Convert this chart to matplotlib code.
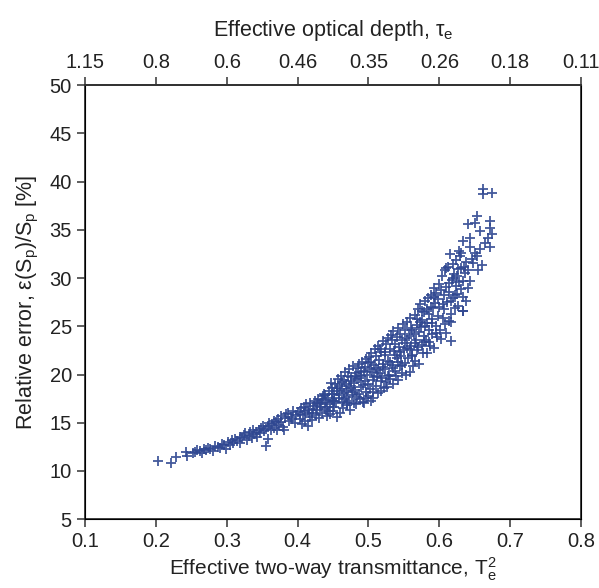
import numpy as np
import matplotlib
matplotlib.use("Agg")
import matplotlib.pyplot as plt

plt.rcParams['font.family'] = ['Liberation Sans', 'DejaVu Sans']
plt.rcParams['mathtext.fontset'] = 'custom'
plt.rcParams['mathtext.rm'] = 'Liberation Sans'
plt.rcParams['mathtext.it'] = 'Liberation Sans'

# values (T_e^2, relative error %)
t2 = [0.203, 0.222, 0.229, 0.243, 0.244,
      0.252, 0.255, 0.258, 0.262, 0.265, 0.268, 0.270, 0.274, 0.277, 0.280, 0.283, 0.287, 0.290, 0.293, 0.296, 0.299,
      0.302, 0.304, 0.307, 0.309, 0.312, 0.315, 0.318, 0.319, 0.322, 0.324, 0.326, 0.328, 0.331, 0.333, 0.335, 0.337,
      0.339, 0.341, 0.343, 0.345, 0.347, 0.349,
      0.351, 0.352, 0.355, 0.358, 0.356, 0.358, 0.360, 0.362, 0.364, 0.366, 0.367, 0.369, 0.371, 0.372, 0.374, 0.376,
      0.377, 0.379, 0.381, 0.382, 0.384, 0.386, 0.388, 0.390, 0.392, 0.394, 0.396, 0.398,
      0.401, 0.403, 0.405, 0.406, 0.408, 0.409, 0.411, 0.412, 0.414, 0.415, 0.417, 0.418, 0.420, 0.421, 0.423, 0.424,
      0.426, 0.428, 0.429, 0.430, 0.432, 0.433, 0.435, 0.436, 0.437, 0.438, 0.440, 0.441, 0.442, 0.443, 0.444, 0.445,
      0.446, 0.447, 0.448, 0.449, 0.450, 0.450,
      0.451, 0.452, 0.453, 0.454, 0.456, 0.456, 0.457, 0.458, 0.460, 0.460, 0.461, 0.462, 0.463, 0.464, 0.465, 0.466,
      0.467, 0.468, 0.469, 0.470, 0.471, 0.472, 0.473, 0.474, 0.475, 0.476, 0.477, 0.478, 0.479, 0.480, 0.481, 0.482,
      0.483, 0.484, 0.485, 0.486, 0.487, 0.488, 0.489, 0.490, 0.491, 0.492, 0.493, 0.494, 0.495, 0.496, 0.497, 0.498,
      0.499, 0.500,
      0.501, 0.502, 0.503, 0.504, 0.505, 0.506, 0.507, 0.508, 0.509, 0.510, 0.511, 0.512, 0.513, 0.514, 0.515, 0.516,
      0.517, 0.518, 0.519, 0.520, 0.521, 0.522, 0.523, 0.524, 0.525, 0.526, 0.527, 0.528, 0.529, 0.530, 0.531, 0.532,
      0.533, 0.534, 0.535, 0.536, 0.537, 0.538, 0.539, 0.540, 0.541, 0.542, 0.543, 0.544, 0.545, 0.546, 0.547, 0.548,
      0.549, 0.550,
      0.551, 0.552, 0.553, 0.554, 0.555, 0.556, 0.557, 0.558, 0.559, 0.560, 0.561, 0.562, 0.563, 0.564, 0.565, 0.566,
      0.567, 0.568, 0.569, 0.570, 0.571, 0.572, 0.573, 0.574, 0.575, 0.576, 0.577, 0.578, 0.579, 0.580, 0.581, 0.582,
      0.583, 0.584, 0.585, 0.586, 0.587, 0.588, 0.589, 0.590, 0.591, 0.592, 0.593, 0.594, 0.595, 0.596, 0.597, 0.598,
      0.599, 0.600,
      0.601, 0.603, 0.604, 0.605, 0.606, 0.607, 0.608, 0.609, 0.610, 0.611, 0.612, 0.613, 0.614, 0.615, 0.616, 0.617,
      0.617, 0.618, 0.619, 0.620, 0.621, 0.622, 0.623, 0.624, 0.625, 0.626, 0.627, 0.628, 0.629, 0.630, 0.631, 0.633,
      0.633, 0.634, 0.634, 0.634, 0.636, 0.638, 0.641, 0.641, 0.644, 0.644, 0.646, 0.648, 0.650,
      0.650, 0.653, 0.653, 0.655, 0.657, 0.657, 0.660, 0.662, 0.662, 0.665, 0.668, 0.671, 0.671, 0.671, 0.674, 0.674,
      # denser middle part of the cloud
      0.404, 0.410, 0.416, 0.422, 0.427, 0.431, 0.434, 0.439, 0.443, 0.448,
      0.452, 0.455, 0.459, 0.462, 0.465, 0.468, 0.470, 0.473, 0.476, 0.478, 0.481, 0.484, 0.487, 0.490, 0.492, 0.495,
      0.497, 0.499,
      0.502, 0.504, 0.506, 0.508, 0.511, 0.513, 0.516, 0.518, 0.520, 0.523, 0.525, 0.528, 0.530, 0.533, 0.535, 0.537,
      0.540, 0.542, 0.545, 0.548,
      0.552, 0.555, 0.558, 0.560, 0.562, 0.565, 0.568, 0.570, 0.573, 0.575, 0.578, 0.580, 0.583, 0.585, 0.588, 0.590,
      0.593, 0.595, 0.598,
      0.602, 0.605, 0.608, 0.610, 0.613, 0.616, 0.619, 0.622, 0.625, 0.628, 0.631, 0.635, 0.638, 0.640, 0.643]

rel_err = [11.0, 10.8, 11.5, 12.0, 11.6,
           11.9, 12.0, 12.2, 12.1, 11.9, 12.3, 12.2, 12.4, 12.3, 12.1, 12.6, 12.5, 12.4, 12.8, 12.7, 12.3,
           13.0, 12.7, 13.2, 12.9, 13.3, 13.1, 13.5, 12.9, 13.4, 13.7, 13.9, 13.2, 13.6, 14.0, 13.4, 14.2,
           13.8, 14.0, 13.5, 14.3, 13.9, 14.5,
           14.7, 14.1, 12.6, 13.3, 14.4, 14.7, 15.0, 14.2, 14.9, 15.2, 14.5, 15.1, 14.2, 15.4, 14.8, 15.7,
           15.1, 14.6, 14.2, 15.5, 15.9, 16.0, 15.2, 15.6, 15.4, 16.2, 15.0, 15.8,
           16.1, 15.4, 16.5, 14.9, 15.8, 16.6, 15.2, 16.9, 14.7, 16.3, 15.6, 17.0, 16.0, 15.3, 16.7, 17.3,
           15.8, 16.3, 17.5, 15.5, 16.6, 17.1, 16.0, 17.8, 18.0, 16.4, 17.2, 15.7, 16.6, 17.6, 18.3, 16.9,
           15.9, 19.1, 17.4, 18.6, 17.3, 16.2,
           16.6, 18.0, 19.0, 17.0, 15.6, 18.3, 19.5, 17.6, 16.0, 18.8, 19.8, 17.2, 19.2, 16.5, 19.4, 18.1,
           20.3, 17.7, 16.8, 18.3, 19.8, 17.3, 20.6, 16.3, 19.7, 18.6, 17.9, 20.9, 19.1, 17.0, 18.4, 20.2,
           16.9, 19.5, 20.7, 18.0, 21.1, 17.5, 19.9, 18.7, 21.3, 17.2, 17.0, 20.4, 19.3, 21.6, 18.2, 20.0,
           17.8, 19.0,
           21.8, 18.5, 22.2, 17.3, 20.3, 19.4, 17.6, 21.0, 22.6, 18.8, 20.7, 19.9, 23.0, 18.1, 21.5, 20.2,
           18.3, 22.3, 19.6, 21.1, 23.5, 18.6, 20.6, 22.0, 19.2, 18.7, 23.8, 21.4, 20.0, 22.7, 19.5, 24.1,
           21.0, 19.0, 24.5, 22.4, 20.4, 23.2, 19.8, 21.7, 19.4, 24.8, 22.9, 20.9, 24.2, 21.9, 20.2, 23.6,
           25.2, 22.5,
           21.2, 23.3, 20.0, 25.4, 22.8, 21.7, 24.0, 20.3, 25.9, 23.0, 22.0, 24.6, 20.9, 24.2, 26.2, 21.4,
           23.6, 25.1, 22.5, 26.8, 24.4, 21.1, 27.3, 24.9, 23.1, 25.7, 22.2, 26.5, 24.0, 27.6, 23.6, 22.2,
           25.3, 27.9, 24.6, 26.3, 23.0, 28.2, 25.8, 24.2, 26.9, 29.0, 22.8, 27.4, 25.0, 28.5, 23.9, 26.1,
           29.4, 27.0,
           24.6, 23.7, 30.2, 25.9, 28.3, 26.8, 30.8, 24.3, 29.1, 27.5, 31.2, 25.6, 28.6, 32.5, 26.3, 23.5,
           25.4, 29.8, 31.5, 27.9, 30.4, 26.9, 29.2, 31.9, 28.4, 27.1, 30.9, 32.8, 32.3, 31.0, 28.9, 28.0,
           26.6, 29.7, 33.9, 26.6, 30.5, 31.7, 29.0, 35.6, 29.7, 33.2, 32.0, 31.6, 32.6,
           35.7, 36.4, 32.3, 30.8, 34.9, 33.0, 31.4, 39.2, 38.7, 33.6, 34.2, 35.9, 35.2, 33.2, 38.8, 34.6,
           # denser middle part of the cloud
           15.9, 16.2, 16.0, 16.4, 17.0, 16.9, 17.4, 17.9, 16.2, 18.0,
           17.3, 18.6, 17.9, 18.5, 17.5, 19.0, 17.0, 18.8, 19.3, 18.2, 19.8, 17.7, 19.6, 20.3, 18.9, 20.8,
           17.6, 21.2,
           20.6, 21.3, 18.2, 19.7, 21.9, 20.5, 22.7, 19.3, 20.8, 22.3, 23.2, 19.9, 21.3, 23.6, 20.7, 22.0,
           23.9, 21.3, 22.3, 21.0,
           24.6, 23.8, 22.6, 24.8, 21.9, 23.3, 25.8, 22.9, 25.5, 26.6, 23.4, 25.0, 26.8, 23.4, 27.0, 25.3,
           28.0, 24.3, 27.8,
           28.8, 27.3, 25.2, 31.0, 29.5, 27.6, 30.0, 28.2, 30.2, 29.6, 32.6, 31.2, 27.6, 30.8, 34.2]

x_ticks = [0.1, 0.2, 0.3, 0.4, 0.5, 0.6, 0.7, 0.8]
tau_labels = ['1.15', '0.8', '0.6', '0.46', '0.35', '0.26', '0.18', '0.11']
y_ticks = [5, 10, 15, 20, 25, 30, 35, 40, 45, 50]

fig = plt.figure(figsize=(5.99, 5.88), dpi=100)
ax = fig.add_axes([0.142, 0.117, 0.828, 0.738])

ax.plot(t2, rel_err, linestyle='none', marker='+', markersize=7,
        markeredgewidth=1.3, color='#2f4791', alpha=0.9)

ax.set_xlim(0.1, 0.8)
ax.set_ylim(5, 50)
ax.set_xticks(x_ticks)
ax.set_xticklabels(['%.1f' % v for v in x_ticks])
ax.set_yticks(y_ticks)

ax.set_xlabel(r'Effective two-way transmittance, T$_\mathrm{e}^\mathrm{2}$', fontsize=15, color='#222222', labelpad=3)
ax.set_ylabel(r'Relative error, ε(S$_\mathrm{p}$)/S$_\mathrm{p}$ [%]', fontsize=15.5, color='#222222', labelpad=6)

for s in ax.spines.values():
    s.set_color('#333333')
    s.set_linewidth(1.3)
ax.tick_params(direction='out', length=6, width=1.1, colors='#333333', labelsize=14.5,
               labelcolor='#222222', right=False, top=False)

top = ax.twiny()
top.set_xlim(ax.get_xlim())
top.set_xticks(x_ticks)
top.set_xticklabels(tau_labels)
top.tick_params(direction='out', length=6, width=1.1, colors='#333333', labelsize=14.5, labelcolor='#222222')
top.spines['top'].set_color('#333333')
top.spines['top'].set_linewidth(1.3)
top.set_xlabel(r'Effective optical depth, τ$_\mathrm{e}$', fontsize=15.5, color='#222222', labelpad=12)

fig.savefig('out.png', dpi=100)
